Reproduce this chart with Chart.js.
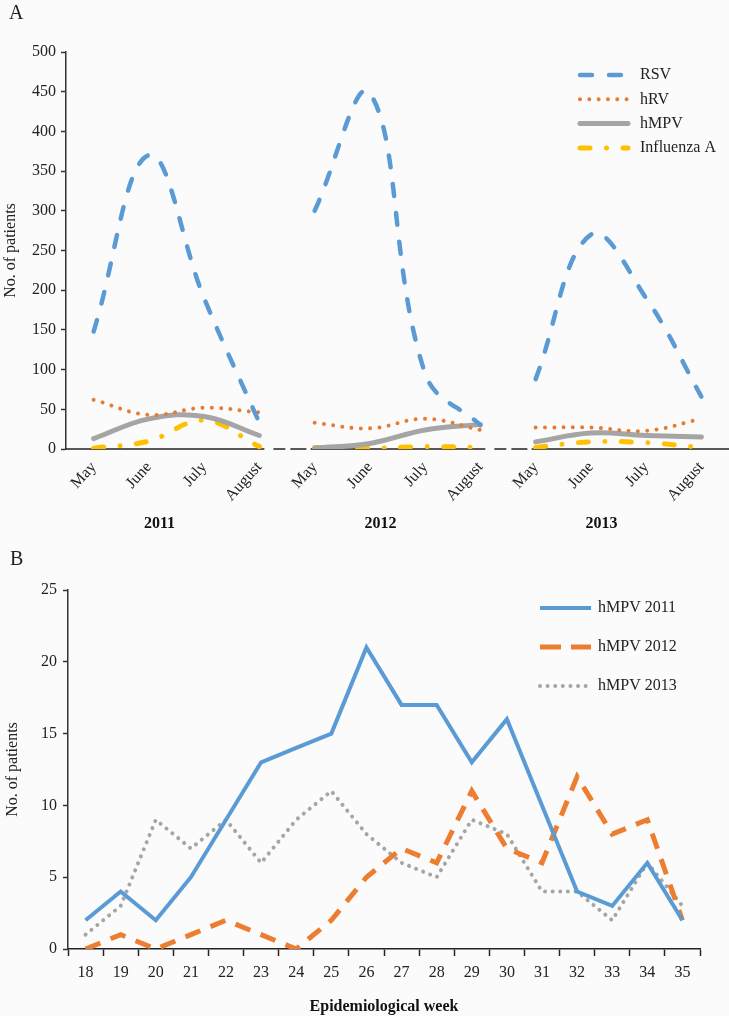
<!DOCTYPE html>
<html lang="en">
<head>
  <meta charset="UTF-8" />
  <title>Respiratory viruses by month and hMPV by week</title>
  <script src="https://cdn.jsdelivr.net/npm/chart.js"></script>
  <style>
    body { margin: 0; background: #fbfbfb; }
    canvas { display: block; }
  </style>
</head>
<body>
  <canvas id="chartA" width="729" height="540"></canvas>
  <canvas id="chartB" width="729" height="476"></canvas>

  <script>
    // Panel A: patients per month, May-August of each season
    const months = ['May', 'June', 'July', 'August', 'May', 'June', 'July', 'August', 'May', 'June', 'July', 'August'];
    const years = ['2011', '2012', '2013'];
    const rsv  = [148, 370, 190, 33, 300, 448, 95, 30, 88, 270, 190, 66];
    const hrv  = [62, 43, 52, 46, 33, 26, 38, 24, 27, 27, 23, 38];
    const hmpv = [13, 38, 41, 17, 1, 7, 24, 31, 9, 20, 17, 15];
    const fluA = [1, 10, 36, 3, 2, 1, 3, 2, 2, 9, 8, 2];

    // Panel B: hMPV patients per epidemiological week
    const weeks = ['18', '19', '20', '21', '22', '23', '24', '25', '26', '27', '28', '29', '30', '31', '32', '33', '34', '35'];
    const hmpv2011 = [2, 4, 2, 5, 9, 13, 14, 15, 21, 17, 17, 13, 16, 10, 4, 3, 6, 2];
    const hmpv2012 = [0, 1, 0, 1, 2, 1, 0, 2, 5, 7, 6, 11, 7, 6, 12, 8, 9, 2];
    const hmpv2013 = [1, 3, 9, 7, 9, 6, 9, 11, 8, 6, 5, 9, 8, 4, 4, 2, 6, 3];

    const SERIF = '"Liberation Serif", "DejaVu Serif", serif';
    Chart.defaults.font.family = SERIF;
    Chart.defaults.font.size = 16;
    Chart.defaults.color = '#222';

    // keep only one season of a 12-month series, nulls elsewhere so lines break
    function season(values, y) {
      return values.map((v, i) => Math.floor(i / 4) === y ? v : null);
    }

    const virusStyles = [
      { label: 'RSV', data: rsv, borderColor: '#5b9bd5', borderWidth: 4.5, borderDash: [12, 17], borderCapStyle: 'round' },
      { label: 'hRV', data: hrv, borderColor: '#e67c32', borderWidth: 4, borderDash: [0.01, 9.3], borderCapStyle: 'round' },
      { label: 'hMPV', data: hmpv, borderColor: '#a5a5a5', borderWidth: 5, borderDash: [], borderCapStyle: 'round' },
      { label: 'Influenza A', data: fluA, borderColor: '#ffc000', borderWidth: 5, borderDash: [10, 16.5, 0.01, 16.5], borderCapStyle: 'round' }
    ];

    const datasetsA = [];
    years.forEach((yr, y) => {
      virusStyles.forEach(s => {
        datasetsA.push({
          label: s.label,
          data: season(s.data, y),
          borderColor: s.borderColor,
          borderWidth: s.borderWidth,
          borderDash: s.borderDash,
          borderCapStyle: s.borderCapStyle,
          tension: 0.4,
          pointRadius: 0,
          spanGaps: false,
          fill: false
        });
      });
    });

    // legend drawn inside the plot area with each series' own line style
    const lineLegend = {
      id: 'lineLegend',
      afterDraw(chart, args, opts) {
        const ctx = chart.ctx;
        const area = chart.chartArea;
        ctx.save();
        opts.items.forEach((idx, k) => {
          const ds = chart.data.datasets[idx];
          const x = area.right - opts.right;
          const y = area.top + opts.top + k * opts.rowGap;
          ctx.strokeStyle = ds.borderColor;
          ctx.lineWidth = ds.borderWidth;
          ctx.lineCap = ds.borderCapStyle || 'butt';
          ctx.setLineDash((opts.dashes && opts.dashes[k]) || ds.borderDash || []);
          ctx.beginPath();
          ctx.moveTo(x, y);
          ctx.lineTo(x + opts.lineLength, y);
          ctx.stroke();
          ctx.setLineDash([]);
          ctx.fillStyle = '#222';
          ctx.font = '16px ' + SERIF;
          ctx.textBaseline = 'middle';
          ctx.textAlign = 'left';
          ctx.fillText(ds.label, x + opts.lineLength + opts.textGap, y);
        });
        ctx.restore();
      }
    };

    // panel letter in the top-left corner
    const panelLetter = {
      id: 'panelLetter',
      afterDraw(chart, args, opts) {
        const ctx = chart.ctx;
        ctx.save();
        ctx.fillStyle = '#222';
        ctx.font = '20px ' + SERIF;
        ctx.textBaseline = 'middle';
        ctx.fillText(opts.text, opts.x, opts.y);
        ctx.restore();
      }
    };

    // year labels under each group of months
    const yearLabels = {
      id: 'yearLabels',
      afterDraw(chart) {
        const ctx = chart.ctx;
        const xs = chart.scales.x;
        ctx.save();
        ctx.fillStyle = '#111';
        ctx.font = 'bold 16px ' + SERIF;
        ctx.textAlign = 'center';
        ctx.textBaseline = 'middle';
        years.forEach((yr, y) => {
          const mid = (xs.getPixelForValue(y * 4) + xs.getPixelForValue(y * 4 + 3)) / 2 - 17;
          ctx.fillText(yr, mid, chart.chartArea.bottom + 75);
        });
        ctx.restore();
      }
    };

    // x axis of panel A: solid under each season, dashed between seasons
    const brokenAxis = {
      id: 'brokenAxis',
      beforeDatasetsDraw(chart) {
        const ctx = chart.ctx;
        const xs = chart.scales.x;
        const area = chart.chartArea;
        const y = area.bottom;
        ctx.save();
        ctx.strokeStyle = '#222';
        ctx.lineWidth = 1.6;
        let start = area.left;
        for (let g = 0; g < 3; g++) {
          const end = g < 2 ? xs.getPixelForValue(g * 4 + 3) + 5 : area.right;
          ctx.setLineDash([]);
          ctx.beginPath(); ctx.moveTo(start, y); ctx.lineTo(end, y); ctx.stroke();
          if (g < 2) {
            const next = xs.getPixelForValue(g * 4 + 4) - 4;
            ctx.setLineDash([0, 9, 12, 5, 16, 2]);
            ctx.beginPath(); ctx.moveTo(end, y); ctx.lineTo(next, y); ctx.stroke();
            start = next;
          }
        }
        ctx.restore();
      }
    };

    new Chart(document.getElementById('chartA'), {
      type: 'line',
      data: { labels: months, datasets: datasetsA },
      options: {
        responsive: false,
        animation: false,
        layout: { padding: { top: 52, right: 0, left: 0, bottom: 0 } },
        plugins: {
          legend: { display: false },
          tooltip: { enabled: false },
          lineLegend: { items: [0, 1, 2, 3], right: 149, top: 23, rowGap: 24.3, lineLength: 48, textGap: 12 },
          panelLetter: { text: 'A', x: 9, y: 14 }
        },
        scales: {
          x: {
            type: 'category',
            offset: true,
            afterFit: s => { s.height = 91; },
            grid: { display: false },
            border: { display: false },
            ticks: { autoSkip: false, minRotation: 48, maxRotation: 48, padding: 1, font: { size: 16 } }
          },
          y: {
            min: 0,
            max: 500,
            afterFit: s => { s.width = 66; },
            border: { display: true, color: '#333', width: 1.5 },
            grid: { drawOnChartArea: false, tickLength: 5, color: '#333', tickWidth: 1.5 },
            ticks: { stepSize: 50, padding: 5, font: { size: 16 } },
            title: { display: true, text: 'No. of patients', font: { size: 16 }, padding: { top: 1, bottom: 0 } }
          }
        }
      },
      plugins: [lineLegend, panelLetter, yearLabels, brokenAxis]
    });

    new Chart(document.getElementById('chartB'), {
      type: 'line',
      data: {
        labels: weeks,
        datasets: [
          { label: 'hMPV 2011', data: hmpv2011, borderColor: '#5b9bd5', borderWidth: 4, borderDash: [], borderCapStyle: 'butt', pointRadius: 0, tension: 0 },
          { label: 'hMPV 2012', data: hmpv2012, borderColor: '#ed7d31', borderWidth: 5, borderDash: [16, 11], borderCapStyle: 'butt', pointRadius: 0, tension: 0 },
          { label: 'hMPV 2013', data: hmpv2013, borderColor: '#a5a5a5', borderWidth: 4, borderDash: [0.01, 7.6], borderCapStyle: 'round', pointRadius: 0, tension: 0 }
        ]
      },
      options: {
        responsive: false,
        animation: false,
        layout: { padding: { top: 50, right: 29, left: 0, bottom: 0 } },
        plugins: {
          legend: { display: false },
          tooltip: { enabled: false },
          lineLegend: { items: [0, 1, 2], right: 160, top: 18, rowGap: 39, lineLength: 51, textGap: 7, dashes: [null, [21, 10], null] },
          panelLetter: { text: 'B', x: 10, y: 20 }
        },
        scales: {
          x: {
            type: 'category',
            offset: true,
            afterFit: s => { s.height = 67; },
            border: { display: true, color: '#222', width: 1.6 },
            grid: { offset: true, drawOnChartArea: false, tickLength: 7, color: '#222', tickWidth: 1.5 },
            ticks: { autoSkip: false, maxRotation: 0, padding: 7, font: { size: 16 } },
            title: { display: true, text: 'Epidemiological week', font: { size: 16, weight: 'bold' }, color: '#111', padding: { top: 0, bottom: 0 } }
          },
          y: {
            min: 0,
            max: 25,
            afterFit: s => { s.width = 68; },
            border: { display: true, color: '#333', width: 1.5 },
            grid: { drawOnChartArea: false, tickLength: 5, color: '#333', tickWidth: 1.5 },
            ticks: { stepSize: 5, padding: 6, font: { size: 16 } },
            title: { display: true, text: 'No. of patients', font: { size: 16 }, padding: { top: 3, bottom: 0 } }
          }
        }
      },
      plugins: [lineLegend, panelLetter]
    });
  </script>
</body>
</html>
